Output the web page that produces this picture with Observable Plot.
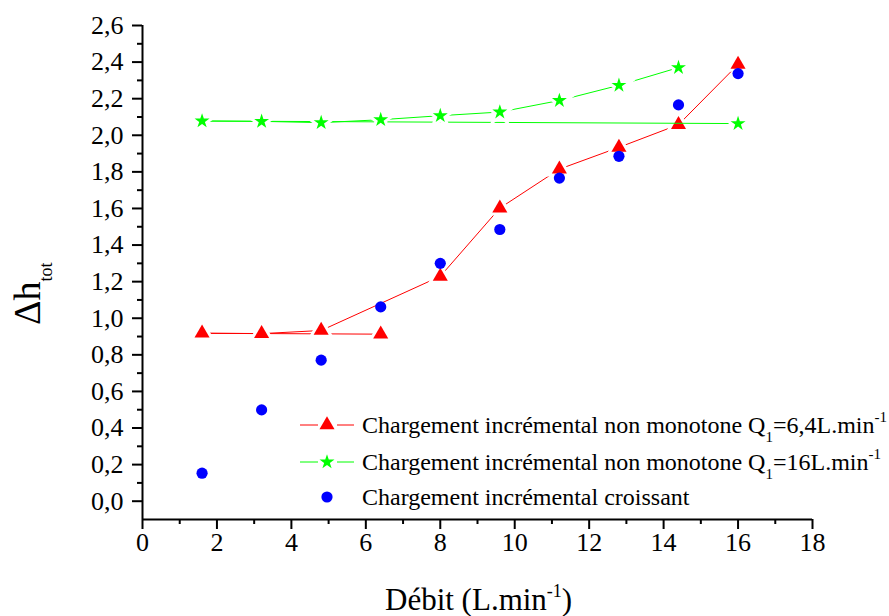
<!DOCTYPE html>
<html>
<head>
<meta charset="utf-8">
<script src="https://cdn.jsdelivr.net/npm/d3@7"></script>
<script src="https://cdn.jsdelivr.net/npm/@observablehq/plot@0.6"></script>
<style>
  html, body { margin: 0; padding: 0; background: #fff; }
  #chart { position: relative; width: 889px; height: 616px; }
</style>
</head>
<body>
<div id="chart"></div>
<script>
// ---- data ----
const debit = [1.6, 3.2, 4.8, 6.4, 8.0, 9.6, 11.2, 12.8, 14.4, 16.0];

// Chargement incrémental non monotone Q1=6,4 (in loading order)
const redX = [6.4, 1.6, 3.2, 4.8, 8.0, 9.6, 11.2, 12.8, 14.4, 16.0];
const redY = [0.913, 0.918, 0.916, 0.933, 1.229, 1.602, 1.815, 1.934, 2.058, 2.387];

// Chargement incrémental non monotone Q1=16 (in loading order)
const greenX = [16.0, 1.6, 3.2, 4.8, 6.4, 8.0, 9.6, 11.2, 12.8, 14.4];
const greenY = [2.064, 2.078, 2.076, 2.069, 2.085, 2.107, 2.127, 2.190, 2.273, 2.370];

// Chargement incrémental croissant
const blueY = [0.153, 0.499, 0.771, 1.062, 1.300, 1.485, 1.766, 1.885, 2.166, 2.337];

const xTicks = [0, 2, 4, 6, 8, 10, 12, 14, 16, 18];
const xMinor = [1, 3, 5, 7, 9, 11, 13, 15, 17];
const yTicks = [0, 0.2, 0.4, 0.6, 0.8, 1.0, 1.2, 1.4, 1.6, 1.8, 2.0, 2.2, 2.4, 2.6];
const yMinor = [0.1, 0.3, 0.5, 0.7, 0.9, 1.1, 1.3, 1.5, 1.7, 1.9, 2.1, 2.3, 2.5];

const legendLabels = [
  ["Chargement incrémental non monotone Q", "1", "=6,4L.min", "-1"],
  ["Chargement incrémental non monotone Q", "1", "=16L.min", "-1"],
  ["Chargement incrémental croissant"]
];
const colors = ["#ff0000", "#00ff00", "#0000ff"];

// ---- tables ----
const red = redX.map((x, i) => ({x, y: redY[i]}));
const green = greenX.map((x, i) => ({x, y: greenY[i]}));
const blue = debit.map((x, i) => ({x, y: blueY[i]}));

const fmt = d => d.toFixed(1).replace(".", ",");
const serif = "'Liberation Serif', 'Times New Roman', serif";
const rTri = 5.6, rStar = 4.7, rDot = 5.6;

const plot = Plot.plot({
  width: 889,
  height: 616,
  marginLeft: 142,
  marginRight: 77,
  marginTop: 25,
  marginBottom: 97,
  style: {fontFamily: serif, fontSize: "26px", color: "#000", background: "#fff", overflow: "visible"},
  x: {domain: [0, 18], label: null},
  y: {domain: [-0.1, 2.6], label: null},
  marks: [
    Plot.axisX(xTicks, {tickSize: 10, tickPadding: 3, strokeWidth: 2, tickFormat: d => String(d), fontSize: 26, label: null}),
    Plot.axisX(xMinor, {tickSize: 5, strokeWidth: 2, tickFormat: () => "", label: null}),
    Plot.axisY(yTicks, {tickSize: 10, tickPadding: 9, strokeWidth: 2, tickFormat: fmt, fontSize: 26, label: null}),
    Plot.axisY(yMinor, {tickSize: 5, strokeWidth: 2, tickFormat: () => "", label: null}),
    Plot.ruleX([0], {stroke: "#000", strokeWidth: 2}),
    Plot.ruleY([-0.1], {stroke: "#000", strokeWidth: 2}),
    // red series: line, white gap around symbols, symbols
    Plot.line(red, {x: "x", y: "y", stroke: colors[0], strokeWidth: 1}),
    Plot.dot(red, {x: "x", y: "y", symbol: "triangle", r: rTri, fill: "#fff", stroke: "#fff", strokeWidth: 6}),
    Plot.dot(red, {x: "x", y: "y", symbol: "triangle", r: rTri, fill: colors[0], stroke: "none"}),
    // green series
    Plot.line(green, {x: "x", y: "y", stroke: colors[1], strokeWidth: 1}),
    Plot.dot(green, {x: "x", y: "y", symbol: "star", r: rStar, fill: "#fff", stroke: "#fff", strokeWidth: 6}),
    Plot.dot(green, {x: "x", y: "y", symbol: "star", r: rStar, fill: colors[1], stroke: "none"}),
    // blue series
    Plot.dot(blue, {x: "x", y: "y", symbol: "circle", r: rDot, fill: colors[2], stroke: "none"})
  ]
});

document.getElementById("chart").appendChild(plot);

const svg = d3.select(plot);

// y axis title: Δh_tot
const yl = svg.append("text")
  .attr("transform", "translate(40,325) rotate(-90)")
  .attr("text-anchor", "start")
  .attr("font-family", serif)
  .attr("font-size", 38)
  .attr("fill", "#000");
yl.append("tspan").text("Δh");
yl.append("tspan").attr("font-size", 18).attr("dy", 12).text("tot");

// x axis title: Débit (L.min-1)
const xl = svg.append("text")
  .attr("x", 385).attr("y", 610)
  .attr("text-anchor", "start")
  .attr("font-family", serif).attr("font-size", 31).attr("fill", "#000");
xl.append("tspan").text("Débit (L.min");
xl.append("tspan").attr("font-size", 18).attr("dy", -13).text("-1");
xl.append("tspan").attr("dy", 13).text(")");

// legend
const lg = svg.append("g").attr("font-family", serif).attr("fill", "#000").attr("text-anchor", "start");
const rowsY = [425, 462, 497];
const legendSyms = [d3.symbolTriangle, d3.symbolStar, d3.symbolCircle];
const legendR = [rTri, rStar, rDot];
legendLabels.forEach((parts, i) => {
  const cy = rowsY[i];
  if (i < 2) {
    lg.append("line").attr("x1", 300).attr("x2", 318).attr("y1", cy).attr("y2", cy)
      .attr("stroke", colors[i]).attr("stroke-width", 1);
    lg.append("line").attr("x1", 337).attr("x2", 354).attr("y1", cy).attr("y2", cy)
      .attr("stroke", colors[i]).attr("stroke-width", 1);
  }
  lg.append("path").attr("d", d3.symbol(legendSyms[i], Math.PI * legendR[i] * legendR[i])())
    .attr("transform", `translate(327,${cy})`).attr("fill", colors[i]);
  const t = lg.append("text").attr("x", 362).attr("y", cy + 8).attr("font-size", 24).attr("text-anchor", "start");
  t.append("tspan").text(parts[0]);
  if (parts.length > 1) {
    t.append("tspan").attr("font-size", 15).attr("dy", 9).text(parts[1]);
    t.append("tspan").attr("dy", -9).text(parts[2]);
    t.append("tspan").attr("font-size", 15).attr("dy", -11).text(parts[3]);
  }
});
</script>
</body>
</html>
